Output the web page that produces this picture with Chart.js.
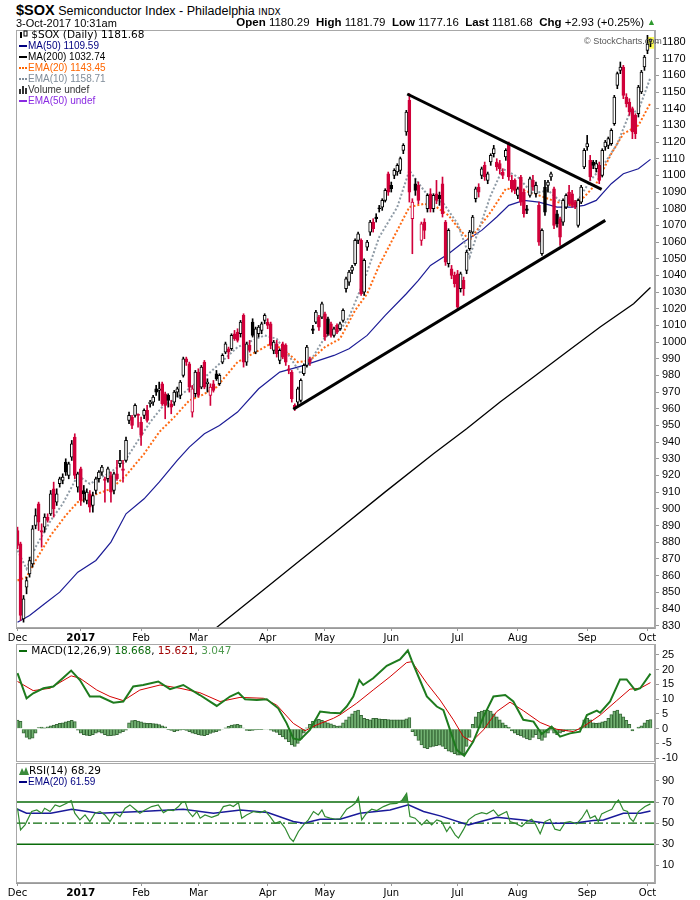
<!DOCTYPE html>
<html>
<head>
<meta charset="utf-8">
<title>$SOX Semiconductor Index - Daily</title>
<script src="https://cdn.jsdelivr.net/npm/chart.js@4.4.1/dist/chart.umd.min.js"></script>
<style>
  body { margin: 0; background: #fff; }
  #page { position: relative; width: 700px; height: 900px; overflow: hidden; font-family: "Liberation Sans", Arial, sans-serif; color: #000; }
  canvas { position: absolute; left: 0; }
  .txt { position: absolute; white-space: nowrap; }
  .v { font-family: "DejaVu Sans", Verdana, sans-serif; }
  .ln { display: inline-block; width: 8px; height: 0; border-top: 2px solid; vertical-align: middle; margin-right: 1px; }
  .dt { display: inline-block; width: 8px; height: 0; border-top: 2px dotted; vertical-align: middle; margin-right: 1px; }
</style>
</head>
<body>
<div id="page">
  <canvas id="priceChart" width="700" height="616" style="top:28px"></canvas>
  <canvas id="macdChart" width="700" height="124" style="top:644px"></canvas>
  <canvas id="rsiChart" width="700" height="137" style="top:763px"></canvas>

  <div class="txt" style="left:16px;top:2px;font-size:12.5px"><b style="font-size:14.5px">$SOX</b> Semiconductor Index - Philadelphia <span class="v" style="font-size:9px">INDX</span></div>
  <div class="txt" style="left:16px;top:17px;font-size:11px">3-Oct-2017 10:31am</div>
  <div class="txt" style="right:56px;top:16px;font-size:11.5px"><b>Open</b> 1180.29 &nbsp;<b>High</b> 1181.79 &nbsp;<b>Low</b> 1177.16 &nbsp;<b>Last</b> 1181.68 &nbsp;<b>Chg</b> +2.93 (+0.25%)</div>
  <div class="txt" style="left:647px;top:17px;font-size:9px;color:#2e9a2e">&#9650;</div>
  <div class="txt" style="left:584px;top:36px;font-size:9px;color:#555">&copy; StockCharts.com</div>

  <div class="txt" style="left:19px;top:29px;line-height:11px">
    <div class="v" style="font-size:10.5px"><svg width="9" height="9" style="vertical-align:-1px"><rect x="1" y="2" width="2" height="6" fill="#000"/><rect x="5" y="1" width="3" height="5" fill="none" stroke="#000" stroke-width="1"/></svg> $SOX (Daily) 1181.68</div>
    <div style="font-size:10px;color:#000080"><span class="ln"></span>MA(50) 1109.59</div>
    <div style="font-size:10px;color:#000"><span class="ln"></span>MA(200) 1032.74</div>
    <div style="font-size:10px;color:#ff6600"><span class="dt"></span>EMA(20) 1143.45</div>
    <div style="font-size:10px;color:#7f8c99"><span class="dt"></span>EMA(10) 1158.71</div>
    <div style="font-size:10px;color:#333"><svg width="9" height="8" style="vertical-align:-1px"><rect x="0" y="3" width="2" height="5" fill="#333"/><rect x="3" y="0" width="2" height="8" fill="#333"/><rect x="6" y="2" width="2" height="6" fill="#333"/></svg>Volume undef</div>
    <div style="font-size:10px;color:#8a2be2"><span class="ln"></span>EMA(50) undef</div>
  </div>

  <div class="txt v" style="left:19px;top:644px;font-size:10.5px"><span class="ln" style="color:#0b6b0b"></span> MACD(12,26,9) <span style="color:#0b6b0b">18.668</span>, <span style="color:#a00000">15.621</span>, <span style="color:#4f9a4f">3.047</span></div>

  <div class="txt" style="left:19px;top:764px;line-height:12px">
    <div class="v" style="font-size:10.5px"><svg width="10" height="9" style="vertical-align:-1px"><polygon points="0,9 3,2 5,6 7,1 10,9" fill="#3a8a3a"/></svg>RSI(14) 68.29</div>
    <div style="font-size:10px;color:#000080"><span class="ln"></span>EMA(20) 61.59</div>
  </div>
</div>

<script>
// trading-day index 0 = 1 Dec 2016, 210 = 3 Oct 2017
const monthStarts = [0, 21, 41, 60, 83, 102, 124, 146, 166, 189, 209];
const monthNames = ['Dec', '2017', 'Feb', 'Mar', 'Apr', 'May', 'Jun', 'Jul', 'Aug', 'Sep', 'Oct'];

const opens = [
  887,879,834,853,861,867,890,903,887,889,
  895,897,912,904,915,917,928,920,931,943,
  913,924,911,905,909,902,911,918,922,918,
  918,920,911,921,927,924,929,953,955,956,
  956,952,956,959,963,964,972,971,975,969,
  968,963,964,970,968,980,990,987,958,969,
  982,973,988,975,968,975,981,975,988,994,
  996,996,1005,1006,1005,1016,988,998,1012,994,
  1005,1007,1013,1012,1011,995,999,989,999,998,
  984,982,962,964,965,981,986,990,1008,1012,
  1015,1015,1017,1014,1011,1004,1010,1008,1013,1032,
  1036,1043,1047,1061,1061,1030,1057,1066,1072,1075,
  1080,1081,1085,1101,1094,1100,1102,1103,1115,1126,
  1145,1074,1095,1094,1061,1072,1080,1089,1080,1089,
  1088,1095,1072,1047,1044,1040,1041,1032,1037,1043,
  1056,1066,1086,1093,1100,1106,1097,1108,1113,1108,
  1107,1102,1111,1119,1097,1097,1088,1099,1090,1080,
  1088,1097,1089,1082,1053,1093,1094,1099,1092,1077,
  1074,1072,1081,1090,1089,1084,1070,1084,1105,1117,
  1109,1108,1104,1106,1100,1117,1118,1119,1131,1154,
  1163,1165,1147,1144,1140,1136,1137,1150,1165,1175,1180.29
];
const highs = [
  889,880,848,859,871,890,900,904,891,897,
  897,911,916,912,919,921,930,928,941,945,
  922,925,914,912,911,910,919,923,926,919,
  925,922,922,929,935,929,943,958,956,963,
  957,955,960,962,965,968,974,976,976,970,
  969,965,971,973,977,991,991,988,974,983,
  984,986,989,978,975,977,983,981,993,1000,
  997,1005,1007,1008,1013,1017,1000,1001,1014,1009,
  1010,1012,1017,1014,1012,1001,1001,996,1000,999,
  986,983,963,973,978,987,998,991,1010,1019,
  1016,1024,1018,1015,1012,1009,1011,1012,1020,1039,
  1043,1046,1062,1066,1062,1050,1061,1073,1074,1077,
  1082,1086,1092,1102,1096,1104,1107,1111,1119,1139,
  1149,1086,1098,1096,1072,1074,1089,1092,1089,1097,
  1090,1099,1073,1068,1046,1042,1043,1042,1039,1055,
  1067,1076,1093,1095,1105,1108,1102,1113,1118,1110,
  1109,1104,1116,1120,1100,1098,1093,1100,1092,1082,
  1099,1100,1096,1084,1068,1097,1097,1102,1093,1079,
  1075,1086,1089,1094,1091,1085,1086,1094,1116,1124,
  1112,1109,1109,1108,1116,1121,1123,1128,1148,1162,
  1168,1166,1149,1146,1141,1137,1154,1163,1172,1184,1181.79
];
const lows = [
  876,833,832,849,859,865,888,887,877,886,
  892,896,895,902,913,915,920,918,929,918,
  910,902,904,903,898,898,909,916,920,904,
  916,904,909,917,925,916,928,951,948,955,
  949,938,954,952,961,962,968,965,962,954,
  961,957,962,967,966,979,986,970,955,967,
  967,972,972,970,962,970,977,974,987,993,
  990,995,1001,1000,1003,985,986,994,1003,993,
  1003,1005,1011,1008,996,993,991,987,990,986,
  981,964,959,962,964,980,985,986,1005,1011,
  1007,1014,1001,1004,1003,1003,1005,1007,1012,1030,
  1034,1041,1046,1059,1028,1028,1055,1064,1066,1072,
  1078,1079,1084,1088,1090,1098,1100,1101,1113,1124,
  1084,1053,1088,1083,1058,1062,1078,1078,1078,1083,
  1082,1075,1046,1045,1038,1033,1019,1030,1028,1041,
  1055,1065,1084,1087,1098,1097,1095,1106,1111,1103,
  1101,1098,1109,1097,1090,1089,1086,1082,1075,1077,
  1087,1091,1087,1058,1052,1076,1090,1097,1068,1069,
  1058,1070,1080,1082,1081,1080,1069,1083,1104,1115,
  1097,1104,1102,1095,1099,1115,1116,1118,1130,1152,
  1161,1146,1141,1136,1122,1122,1135,1149,1163,1173,1177.16
];
const closes = [
  878,836,846,857,869,888,896,892,886,895,
  893,909,900,909,918,919,922,927,939,920,
  921,905,909,910,901,908,918,922,925,917,
  924,910,921,918,929,923,941,956,950,962,
  956,944,959,953,964,967,970,972,963,962,
  965,961,970,972,976,990,988,973,972,982,
  968,985,973,976,973,971,978,980,992,999,
  994,1004,1002,1001,1012,988,999,995,1004,1008,
  1009,1011,1016,1010,998,1000,993,995,991,988,
  983,966,960,972,977,986,997,988,1007,1018,
  1009,1023,1003,1005,1004,1008,1006,1011,1019,1038,
  1042,1045,1061,1065,1029,1049,1060,1072,1068,1074,
  1080,1085,1091,1090,1092,1103,1106,1110,1118,1138,
  1090,1084,1091,1085,1071,1067,1088,1080,1088,1085,
  1086,1077,1048,1067,1040,1035,1021,1041,1032,1054,
  1066,1075,1092,1090,1104,1099,1101,1112,1116,1105,
  1104,1100,1115,1099,1092,1091,1092,1084,1077,1079,
  1098,1093,1094,1060,1067,1078,1096,1101,1070,1071,
  1063,1085,1088,1083,1082,1081,1085,1093,1115,1119,
  1099,1106,1107,1097,1115,1120,1122,1127,1147,1161,
  1165,1148,1143,1138,1126,1125,1153,1162,1171,1178.75,1181.68
];

// overlays as [day index, value]
const ma50 = [[0,832],[4,836],[9,843],[14,850],[20,862],[26,869],[31,880],[36,897],[42,906],[47,916],[53,929],[57,937],[62,945],[67,950],[73,958],[80,972],[87,982],[95,986],[100,989],[105,992],[110,996],[116,1004],[122,1016],[129,1029],[133,1037],[137,1046],[143,1053],[148,1060],[154,1067],[159,1075],[163,1082],[168,1085],[173,1084],[179,1081],[184,1081],[188,1082],[192,1085],[197,1095],[201,1101],[206,1104],[210,1109.59]];
const ma200 = [[65.5,828],[82.7,853],[93.7,869],[104.8,885],[121.9,910],[138,933],[149,948],[160.1,964],[171.2,979],[182.2,994],[193.3,1009],[204.4,1023],[210,1032.74]];
const ema20 = [[0,857],[3,859],[6,869],[11,884],[16,896],[20,904],[25,908],[31,912],[36,920],[42,933],[47,946],[52,955],[57,965],[61,968],[66,973],[73,988],[78,993],[84,999],[88,996],[93,988],[97,989],[102,997],[107,1002],[112,1019],[116,1029],[120,1046],[126,1067],[130,1081],[135,1083],[139,1081],[143,1076],[146,1069],[150,1061],[154,1071],[157,1078],[162,1092],[168,1091],[173,1088],[179,1084],[184,1082],[188,1087],[192,1095],[197,1113],[201,1125],[206,1130],[210,1143.45]];
const ema10 = [[0,875],[3,864],[6,877],[11,893],[15,903],[20,920],[24,915],[30,921],[35,927],[40,941],[44,952],[48,961],[54,968],[59,975],[61,977],[67,987],[73,997],[78,1001],[82,1004],[86,1002],[90,992],[94,981],[98,991],[102,1003],[107,1007],[110,1015],[115,1037],[120,1063],[126,1081],[130,1103],[134,1093],[137,1086],[141,1084],[146,1071],[150,1051],[152,1062],[157,1088],[161,1104],[166,1099],[171,1089],[176,1091],[181,1083],[186,1085],[190,1097],[194,1105],[199,1119],[203,1137],[206,1139],[210,1158.71]];
const trendUp = [[91.5,959.7],[195,1073]];
const trendDown = [[129.3,1148.8],[193.8,1091.6]];

const macdLine = [[0,18.8],[3,10.3],[5.2,12.0],[8.6,13.7],[11.9,14.3],[15,17.1],[17.8,19.7],[20.7,16.5],[24,10.9],[27.4,10.9],[31.8,8.8],[35.1,9.2],[38.4,14.3],[41.7,14.8],[46.7,16.0],[50.6,13.4],[55,14.8],[60.5,11.4],[66.1,7.7],[70.5,10.9],[73.3,12.2],[75.5,10.0],[79.4,9.7],[82.7,10.0],[86.5,6.9],[89.3,1.8],[91.5,-3.3],[93.7,-3.8],[97,-0.4],[100.4,5.8],[103.7,5.4],[107,5.2],[109.2,7.5],[111.4,10.9],[113.4,16.5],[114.7,14.8],[118,17.1],[122.5,21.3],[126.9,23.5],[129.5,26.5],[130.8,23.1],[133.5,16.5],[135.8,10.9],[139.1,7.5],[141.3,6.3],[143.5,-0.4],[145.7,-7.2],[148.2,-9.2],[151.2,-4.4],[154.6,4.1],[157.9,10.9],[161.8,11.4],[164.5,9.2],[167.8,3.0],[171.2,2.4],[173.9,-1.8],[177.2,0.7],[180,-2.7],[183.3,-1.6],[186.6,-1.0],[188.9,4.6],[192.2,6.1],[193.3,5.4],[196.6,9.2],[199.9,16.7],[202.1,16.7],[204.9,13.1],[206.6,13.7],[210,18.668]];
const macdSignal = [[0,16.0],[5.2,12.9],[10.8,13.7],[17.8,17.9],[20.7,17.1],[26.3,13.1],[30.7,10.9],[35.1,9.5],[40.6,13.1],[47.3,14.8],[53.9,13.7],[60.5,12.2],[67.2,9.2],[73.8,10.6],[81.6,10.3],[86,8.0],[91.5,1.8],[95.4,-0.7],[99.3,1.3],[104.8,3.5],[107,4.7],[112.5,8.6],[118,13.1],[123.6,17.6],[129.1,22.4],[130.8,22.7],[135.8,15.4],[140.2,9.7],[144.6,3.0],[147.9,-2.7],[150.7,-4.4],[154.6,-0.4],[159,5.8],[163.4,9.0],[167.8,6.1],[173.4,2.1],[178.9,-0.2],[184.4,-1.0],[187.8,0.7],[193.3,4.6],[198.8,9.5],[203.2,13.4],[206.6,13.7],[210,15.621]];
const macdHist = [
  2.9,2.5,-1.5,-3.0,-3.6,-3.2,-1.5,0.4,0.5,0.3,
  0.6,1.0,1.2,1.5,1.8,2.0,2.3,2.6,2.8,2.4,
  -0.5,-1.5,-2.0,-2.3,-2.4,-2.0,-1.5,-1.2,-1.5,-2.0,
  -2.5,-2.4,-2.3,-2.0,-1.5,-1.0,-0.5,2.0,2.7,2.8,
  2.6,2.3,2.0,1.8,1.8,1.7,1.6,1.4,1.0,0.6,
  -0.3,-0.6,-1.0,-0.8,-0.5,-0.3,-0.6,-1.0,-1.5,-1.8,
  -2.0,-2.3,-2.4,-2.0,-1.6,-1.3,-1.0,-0.6,-0.2,0.3,
  0.8,1.2,1.4,1.5,1.2,0.2,-0.6,-0.7,-0.6,-0.4,
  -0.3,-0.3,-0.2,-0.2,-0.5,-0.9,-1.3,-2.0,-2.8,-3.6,
  -4.4,-5.5,-6.0,-5.0,-3.6,-1.5,0.3,1.5,2.5,3.0,
  3.2,2.8,2.4,2.0,1.6,1.2,0.9,1.0,2.0,3.0,
  4.0,5.0,6.0,6.3,4.5,3.5,3.2,3.0,3.5,3.5,
  3.3,3.2,3.2,3.1,3.0,3.0,3.0,3.0,3.0,3.3,
  3.8,-1.0,-2.5,-4.0,-5.5,-6.5,-6.8,-6.3,-6.0,-5.8,
  -5.6,-6.0,-6.8,-7.6,-8.0,-8.5,-9.0,-9.0,-8.5,-6.0,
  -3.0,1.5,4.0,5.5,6.0,6.3,6.3,6.0,5.0,4.0,
  3.0,2.0,1.2,0.5,-0.8,-1.5,-2.0,-2.5,-3.0,-3.5,
  -3.8,-3.0,-2.0,-3.5,-4.0,-3.0,-1.5,-0.5,-1.5,-2.0,
  -1.5,-1.0,-0.8,-0.5,-0.5,-0.5,-0.3,0.5,3.0,3.5,
  3.0,2.0,1.8,2.0,2.3,2.6,3.5,4.8,6.0,6.3,
  5.0,4.0,2.8,1.5,-0.8,0.0,0.5,1.0,2.0,2.8,3.047
];

const rsiLine = [[0,64.1],[1,43.6],[2.5,48.4],[4.7,61],[6.4,62.5],[8,59.4],[9,64.1],[10.8,61],[12.5,67.3],[14,65.7],[16.3,68.8],[17.8,71.4],[19,59.4],[20.7,53.1],[22.4,57.8],[24,51.5],[25.7,59.4],[27.4,61],[29,57.8],[30.7,51.5],[32.4,59.4],[34,56.2],[35.7,64.1],[37.3,67.3],[39,63.2],[40.6,59.4],[42.3,62.5],[44.5,65.7],[46.7,67.3],[48.4,60],[50,62.5],[51.7,61.9],[53.4,65.7],[54.5,69.5],[55.6,70.4],[56.7,61],[58.1,56.2],[59.5,61],[60.6,54.7],[62.2,57.8],[64.4,55.6],[66.6,57.8],[68.3,65.7],[70.5,67.3],[71.6,65.7],[73.3,69.5],[74.4,54.7],[76,57.8],[78.3,61],[80.5,60],[82.1,61.9],[83.8,56.2],[85.4,49.9],[87.1,51.5],[88.8,45.2],[90.4,35.8],[91.5,32.6],[93.2,42.1],[94.9,48.4],[96.5,53.1],[98.2,61],[99.8,57.8],[101,62.5],[102,56.2],[103.7,54.7],[105.4,53.7],[107,54.2],[109.2,63.2],[110.9,66.3],[112,68.8],[113.1,74.5],[114.2,53.1],[115.8,59.4],[117.5,63.2],[119.2,61.9],[121.4,65.7],[123.6,68.2],[125.8,68.8],[127.5,71.4],[129.1,78.3],[130.2,56.2],[131.9,54.7],[134.1,48.4],[135.8,53.1],[137.4,48.4],[139.1,53.1],[140.7,51.5],[142.4,42.1],[143.5,46.8],[145.2,38.9],[146.3,35.8],[147.9,43.6],[149.6,53.1],[151.8,57.8],[154,60],[155.7,58.8],[157.9,62.5],[159.5,56.9],[162.3,61],[163.4,51.5],[165.1,49.9],[167.3,46.8],[169,51.5],[170.6,53.7],[171.7,49.9],[173.4,39.9],[175,51.5],[176.7,53.7],[178.3,44.3],[180,43],[181.7,50.6],[183.3,51.5],[185.5,49.3],[187.2,54.7],[188.9,62.5],[190,54.7],[191.6,56.9],[192.7,51.5],[193.8,58.8],[195.5,61],[197.2,63.2],[198.3,68.8],[199.4,72],[201,62.5],[202.4,61],[203.2,54.7],[204.3,51.5],[206,61],[208.2,65.7],[210,68.29]];
const rsiEma = [[0,63.2],[3,59.4],[11,59.4],[18,63.2],[27,59.4],[41,61],[55,63.2],[65,59.4],[74,62.5],[83,60],[91.5,51.5],[95,49.9],[100.4,53.7],[107,53.7],[113.6,59.4],[123.6,62.5],[129.7,67.3],[134.7,61],[140.2,56.9],[149.6,48.4],[159,55.6],[167.8,53.1],[175.6,49.9],[184.4,49.9],[191,52.5],[194.4,53.1],[201,59.4],[206.6,59.4],[210,61.59]];
const rsiLevels = [70, 50, 30];

const macdTicks = [-10, -5, 0, 5, 10, 15, 20, 25];
const rsiTicks = [10, 30, 50, 70, 90];
const priceTicks = [];
for (let v = 830; v <= 1180; v += 10) priceTicks.push(v);

const RED = '#d0003a';
const toXY = pts => pts.map(p => ({ x: p[0], y: p[1] }));

const framePlugin = {
  id: 'frame',
  afterDraw(chart) {
    const a = chart.chartArea, c = chart.ctx;
    c.save();
    c.strokeStyle = '#a8a8a8';
    c.lineWidth = 1;
    c.strokeRect(Math.round(a.left) + 0.5, Math.round(a.top) + 0.5, Math.round(a.width) - 1, Math.round(a.height) - 1);
    c.restore();
  }
};

function baseOptions(yMin, yMax, yTicks, showX, xHeight, padBottom) {
  return {
    responsive: false,
    animation: false,
    layout: { padding: { left: 16, right: 0, top: 0, bottom: padBottom } },
    plugins: { legend: { display: false }, tooltip: { enabled: false } },
    scales: {
      x: {
        type: 'linear', min: -0.5, max: 211.5, offset: false, display: showX,
        afterBuildTicks: s => { s.ticks = monthStarts.map(v => ({ value: v })); },
        afterFit: s => { s.height = xHeight; s.paddingLeft = 0; s.paddingRight = 0; },
        grid: { drawOnChartArea: false, tickLength: 3, color: '#999', offset: false },
        border: { color: '#999', dash: [1, 1] },
        ticks: {
          autoSkip: false, maxRotation: 0, padding: 1, color: '#000',
          callback: (v, i) => monthNames[i],
          font: c => ({ family: 'DejaVu Sans', size: c.index === 1 ? 10.5 : 10, weight: c.index === 1 ? 'bold' : 'normal' })
        }
      },
      y: {
        position: 'right', min: yMin, max: yMax,
        afterBuildTicks: s => { s.ticks = yTicks.map(v => ({ value: v })); },
        afterFit: s => { s.width = 45; s.paddingTop = 0; s.paddingBottom = 0; },
        grid: { drawOnChartArea: false, tickLength: 4, color: '#999' },
        border: { color: '#aaa' },
        ticks: { autoSkip: false, padding: 3, color: '#000', font: { family: 'Liberation Sans', size: 11 }, callback: v => String(v) }
      }
    }
  };
}

// price panel
const candleColor = closes.map((c, i) => (i > 0 && c >= closes[i - 1]) ? '#000000' : RED);
const bodyFill = closes.map((c, i) => c > opens[i] ? '#ffffff' : candleColor[i]);

const lastBox = {
  id: 'lastBox',
  beforeDatasetsDraw(chart) {
    const xs = chart.scales.x, ys = chart.scales.y, n = closes.length - 1;
    const x = xs.getPixelForValue(n), top = ys.getPixelForValue(highs[n]), bot = ys.getPixelForValue(lows[n]);
    chart.ctx.save();
    chart.ctx.fillStyle = '#ffff55';
    chart.ctx.fillRect(x - 3.5, top - 2, 7, bot - top + 4);
    chart.ctx.restore();
  }
};

const priceOpts = baseOptions(828.5, 1187.2, priceTicks, true, 16, 0);
priceOpts.layout.padding.top = 2;
new Chart(document.getElementById('priceChart'), {
  type: 'bar',
  data: {
    datasets: [
      { type: 'line', data: toXY(trendUp), borderColor: '#000', borderWidth: 3, pointRadius: 0, order: -1 },
      { type: 'line', data: toXY(trendDown), borderColor: '#000', borderWidth: 3, pointRadius: 0, order: -1 },
      {
        type: 'bar', order: 0, grouped: false,
        data: closes.map((c, i) => ({ x: i, y: [Math.min(opens[i], c), Math.max(opens[i], c)] })),
        backgroundColor: bodyFill, borderColor: candleColor, borderWidth: 1,
        borderSkipped: false, barThickness: 3, minBarLength: 1
      },
      {
        type: 'bar', order: 1, grouped: false,
        data: closes.map((c, i) => ({ x: i, y: [lows[i], highs[i]] })),
        backgroundColor: candleColor, borderWidth: 0, barThickness: 1
      },
      { type: 'line', data: toXY(ema10), borderColor: '#8e9aa5', borderWidth: 2, borderDash: [2, 2], pointRadius: 0, order: 2 },
      { type: 'line', data: toXY(ema20), borderColor: '#ff6a13', borderWidth: 2, borderDash: [2, 2], pointRadius: 0, order: 2 },
      { type: 'line', data: toXY(ma50), borderColor: '#1c1c96', borderWidth: 1.2, pointRadius: 0, order: 2 },
      { type: 'line', data: toXY(ma200), borderColor: '#000', borderWidth: 1.3, pointRadius: 0, order: 2 }
    ]
  },
  options: priceOpts,
  plugins: [framePlugin, lastBox]
});

// MACD panel
new Chart(document.getElementById('macdChart'), {
  type: 'bar',
  data: {
    datasets: [
      { type: 'line', data: toXY(macdLine), borderColor: '#1e7b1e', borderWidth: 2, pointRadius: 0, order: 0 },
      { type: 'line', data: toXY(macdSignal), borderColor: '#d40000', borderWidth: 1, pointRadius: 0, order: 1 },
      {
        type: 'bar', order: 2,
        data: macdHist.map((v, i) => ({ x: i, y: v })),
        backgroundColor: '#72b272', borderColor: 'rgba(35,90,35,0.9)', borderWidth: 1,
        barPercentage: 1, categoryPercentage: 1
      }
    ]
  },
  options: baseOptions(-11.3, 28.7, macdTicks, false, 0, 6),
  plugins: [framePlugin]
});

// RSI panel
new Chart(document.getElementById('rsiChart'), {
  type: 'line',
  data: {
    datasets: [
      {
        data: toXY(rsiLine), borderColor: '#2f8a2f', borderWidth: 1.2, pointRadius: 0, order: 0,
        fill: { target: { value: 70 }, above: '#3d8f3d', below: 'rgba(0,0,0,0)' }
      },
      { data: toXY(rsiEma), borderColor: '#1a1a9a', borderWidth: 1.5, pointRadius: 0, order: 1 },
      ...rsiLevels.map(lv => ({
        data: [{ x: -0.5, y: lv }, { x: 211.5, y: lv }],
        borderColor: '#0a6b0a', borderWidth: lv === 50 ? 1.2 : 1.5,
        borderDash: lv === 50 ? [9, 3, 2, 3] : [], pointRadius: 0, order: 2
      }))
    ]
  },
  options: baseOptions(-6.7, 107, rsiTicks, true, 17, 0),
  plugins: [framePlugin]
});
</script>
</body>
</html>
